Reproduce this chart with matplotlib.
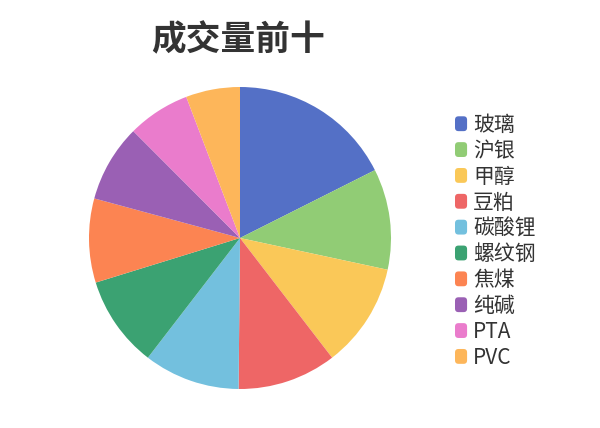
import matplotlib
matplotlib.use("Agg")
import matplotlib.pyplot as plt
from matplotlib.patches import Patch, FancyBboxPatch
from matplotlib.legend_handler import HandlerPatch

plt.rcParams['font.family'] = ['Noto Sans CJK SC', 'DejaVu Sans']

categories = ['玻璃', '沪银', '甲醇', '豆粕', '碳酸锂', '螺纹钢', '焦煤', '纯碱', 'PTA', 'PVC']
values = [17.6, 10.8, 11.2, 10.6, 10.3, 9.8, 9.0, 8.3, 6.7, 5.8]
colors = ['#5470c6', '#91cc75', '#fac858', '#ee6666', '#73c0de',
          '#3ba272', '#fc8452', '#9a60b4', '#ea7ccc', '#fdb65a']
title = '成交量前十'

W, H = 600, 428
fig = plt.figure(figsize=(W / 100, H / 100), dpi=100)
cx, cy, r = 240, 238, 151
ax = fig.add_axes([(cx - r) / W, (H - cy - r) / H, 2 * r / W, 2 * r / H])
wedges, _ = ax.pie(values, colors=colors, startangle=90, counterclock=False,
                   radius=1, wedgeprops=dict(linewidth=0))
ax.set_xlim(-1, 1)
ax.set_ylim(-1, 1)
ax.set_aspect('equal')
ax.axis('off')

fig.text((cx - 2) / W, 1 - 40 / H, title, ha='center', va='center',
         fontsize=25, fontweight='bold', color='#333333')


class RoundHandler(HandlerPatch):
    def create_artists(self, legend, orig_handle, xdescent, ydescent,
                       width, height, fontsize, trans):
        p = FancyBboxPatch((-xdescent, -ydescent), width, height,
                           boxstyle='round,pad=0,rounding_size=2.5',
                           facecolor=orig_handle.get_facecolor(),
                           edgecolor='none', transform=trans)
        return [p]


handles = [Patch(facecolor=c, edgecolor='none') for c in colors]
leg = fig.legend(handles, categories, loc='upper left',
                 bbox_to_anchor=(455 / W, 1 - 114 / H),
                 handler_map={Patch: RoundHandler()},
                 frameon=False, handlelength=0.58, handleheight=0.72,
                 handletextpad=0.28, labelspacing=0.185, borderpad=0, borderaxespad=0,
                 prop={'size': 15, 'weight': 'medium'})
for t in leg.get_texts():
    t.set_color('#333333')

fig.savefig('out.png', dpi=100)
